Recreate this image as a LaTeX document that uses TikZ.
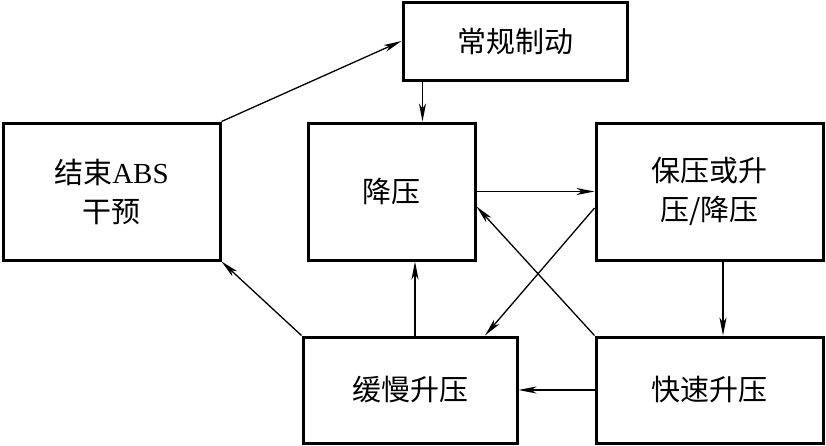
\documentclass[tikz,border=0pt]{standalone}
\usepackage{fontspec}
\setmainfont{Liberation Serif}
\newfontfamily\cjk{Noto Sans CJK SC}
\usetikzlibrary{arrows.meta}
\begin{document}
\begin{tikzpicture}[x=1pt, y=-1pt, >={Stealth[length=18pt,width=7pt,inset=5pt]},
  caixa/.style={draw, rectangle, line width=3pt, inner sep=0pt, align=center,
    font=\cjk\fontsize{29}{39}\selectfont},
  seta/.style={->, line width=1.3pt}]
\useasboundingbox (0,0) rectangle (826,445);
% Blocos
\node[caixa, minimum width=224pt, minimum height=78pt] (normal) at (515,41) {常规制动};
\node[caixa, minimum width=217pt, minimum height=137pt] (fim) at (111.5,191.5) {结束{\rmfamily ABS}\\干预};
\node[caixa, minimum width=167pt, minimum height=137pt] (reduz) at (391.5,191.5) {降压};
\node[caixa, minimum width=227pt, minimum height=137pt] (mantem) at (709.5,191.5) {保压或升\\压/降压};
\node[caixa, minimum width=214pt, minimum height=106pt] (lento) at (410,390) {缓慢升压};
\node[caixa, minimum width=227pt, minimum height=106pt] (rapido) at (709.5,390) {快速升压};

% Ligacoes
\draw[seta] (fim.north east) -- (normal.west);
\draw[seta] ([xshift=21pt]normal.south west) -- ([xshift=21pt]normal.south west |- reduz.north);
\draw[seta] (reduz.east) -- (reduz.east -| mantem.west);
\draw[seta] ([yshift=-16.5pt]mantem.west) -- ([xshift=75pt]lento.north);
\draw[seta] (rapido.north west) -- ([yshift=-15pt]reduz.east);
\draw[seta] ([xshift=13.5pt]mantem.south) -- ([xshift=13.5pt]rapido.north);
\draw[seta] (rapido.west) -- (rapido.west -| lento.east);
\draw[seta] ([xshift=5pt]lento.north) -- ([xshift=5pt]lento.north |- reduz.south);
\draw[seta] (lento.north west) -- (fim.south east);
\end{tikzpicture}
\end{document}
